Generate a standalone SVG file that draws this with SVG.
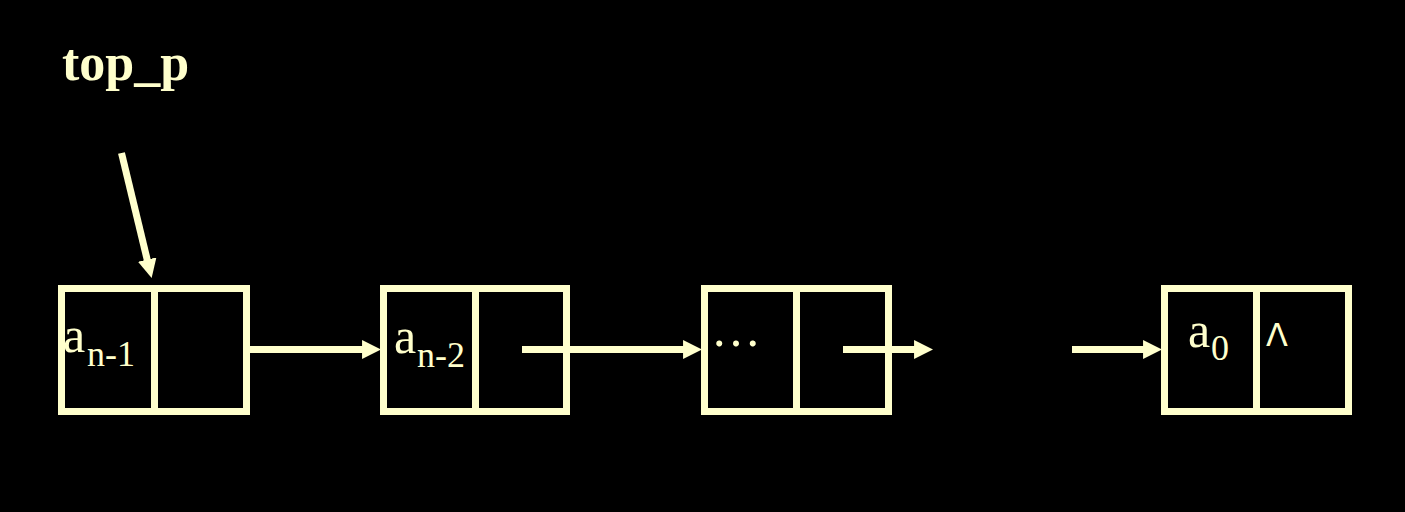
<svg xmlns="http://www.w3.org/2000/svg" width="1405" height="512" viewBox="0 0 1405 512">
<style>
.box{fill:none;stroke:#FFFFCC;stroke-width:7}
.div{stroke:#FFFFCC;stroke-width:7}
.conn{stroke:#FFFFCC;stroke-width:7;fill:none;marker-end:url(#ah)}
.t{fill:#FFFFCC;font-family:"Liberation Serif","Times New Roman",serif}
.a{font-size:50px}
.s{font-size:36px}
</style>
<defs>
<marker id="ah" markerUnits="userSpaceOnUse" viewBox="0 0 20 20" markerWidth="19" markerHeight="19" refX="1" refY="10" orient="auto">
<path d="M0,0 L20,10 L0,20 z" fill="#FFFFCC"/>
</marker>
</defs>
<rect width="1405" height="512" fill="#000"/>
<g id="label-top_p">
<text class="t" x="62" y="80" font-size="52" font-weight="bold">top_p</text>
</g>
<g id="node1">
<rect class="box" x="61.5" y="288.5" width="185" height="123"/>
<line class="div" x1="154.5" y1="288.5" x2="154.5" y2="411.5"/>
<text class="t"><tspan class="a" x="63" y="352">a</tspan><tspan class="s" x="87" y="366">n-1</tspan></text>
</g>
<g id="node2">
<rect class="box" x="383.5" y="288.5" width="183" height="123"/>
<line class="div" x1="475.5" y1="288.5" x2="475.5" y2="411.5"/>
<text class="t"><tspan class="a" x="394" y="352.5">a</tspan><tspan class="s" x="417" y="366.5">n-2</tspan></text>
</g>
<g id="node3">
<rect class="box" x="704.5" y="288.5" width="184" height="123"/>
<line class="div" x1="796.5" y1="288.5" x2="796.5" y2="411.5"/>
<text class="t" x="711" y="346" font-size="50">…</text>
</g>
<g id="node4">
<rect class="box" x="1164.5" y="288.5" width="184" height="123"/>
<line class="div" x1="1256.5" y1="288.5" x2="1256.5" y2="411.5"/>
<text class="t"><tspan class="a" x="1188" y="347">a</tspan><tspan class="s" x="1211" y="360">0</tspan></text>
<text x="1266" y="346" font-size="32" fill="#FFFFCC" font-family="DejaVu Sans, sans-serif">Λ</text>
</g>
<g id="connectors">
<line class="conn" x1="121.5" y1="153" x2="147.4" y2="260.5"/>
<line class="conn" x1="249" y1="349.5" x2="363" y2="349.5"/>
<line class="conn" x1="522" y1="349.5" x2="684" y2="349.5"/>
<line class="conn" x1="843" y1="349.5" x2="915" y2="349.5"/>
<line class="conn" x1="1072" y1="349.5" x2="1144" y2="349.5"/>
</g>
</svg>
